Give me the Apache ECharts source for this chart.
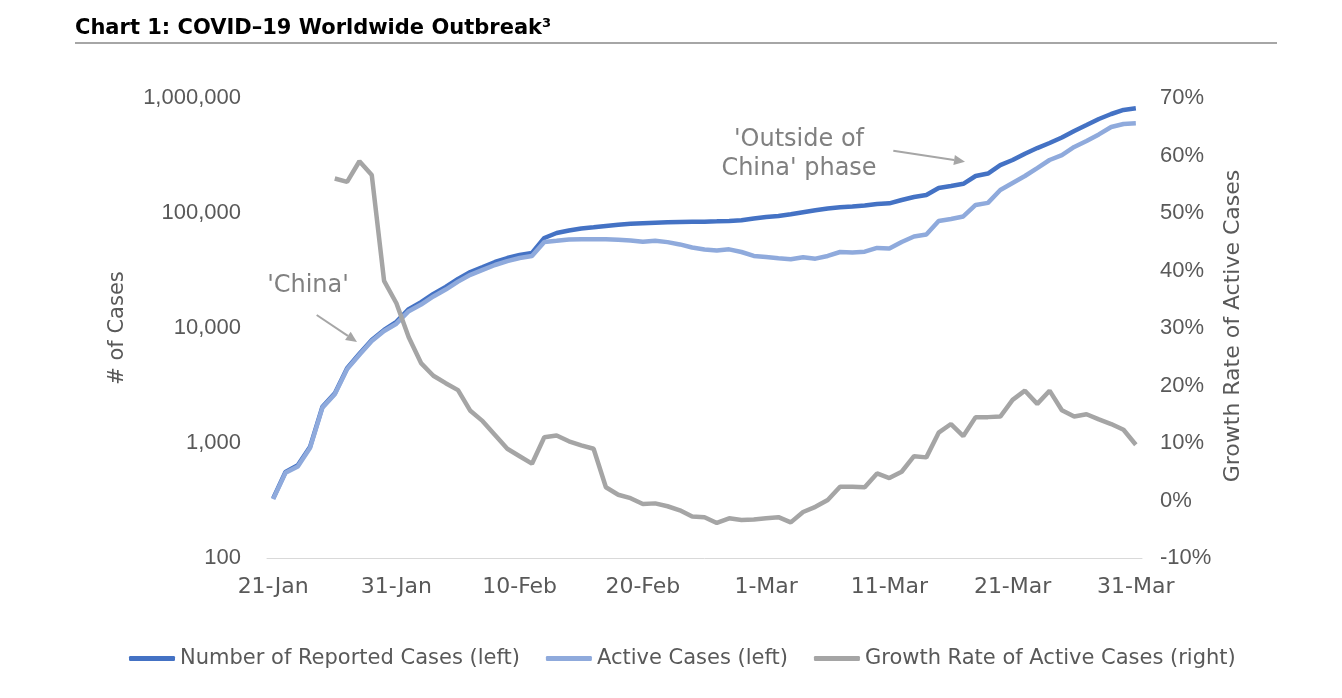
<!DOCTYPE html>
<html><head><meta charset="utf-8">
<script src="https://cdn.jsdelivr.net/npm/echarts@6/dist/echarts.min.js"></script>
<style>html,body{margin:0;padding:0;background:#fff;}#c{width:1342px;height:698px;}</style>
</head><body><div id="c"></div><script>
const categories = [
 '21-Jan','22-Jan','23-Jan','24-Jan','25-Jan','26-Jan','27-Jan','28-Jan','29-Jan','30-Jan',
 '31-Jan','1-Feb','2-Feb','3-Feb','4-Feb','5-Feb','6-Feb','7-Feb','8-Feb','9-Feb',
 '10-Feb','11-Feb','12-Feb','13-Feb','14-Feb','15-Feb','16-Feb','17-Feb','18-Feb','19-Feb',
 '20-Feb','21-Feb','22-Feb','23-Feb','24-Feb','25-Feb','26-Feb','27-Feb','28-Feb','29-Feb',
 '1-Mar','2-Mar','3-Mar','4-Mar','5-Mar','6-Mar','7-Mar','8-Mar','9-Mar','10-Mar',
 '11-Mar','12-Mar','13-Mar','14-Mar','15-Mar','16-Mar','17-Mar','18-Mar','19-Mar','20-Mar',
 '21-Mar','22-Mar','23-Mar','24-Mar','25-Mar','26-Mar','27-Mar','28-Mar','29-Mar','30-Mar',
 '31-Mar'];
const reportedCases = [
 330, 560, 640, 930, 2070, 2700, 4470, 5970, 7870, 9610,
 11300, 14600, 16800, 19800, 22800, 26700, 30700, 33900, 37500, 40600,
 43200, 44900, 60600, 67000, 70400, 73300, 75100, 77100, 78900, 80500,
 81500, 82400, 83000, 83500, 83800, 84100, 84700, 85400, 86400, 89500,
 92300, 94200, 97400, 101400, 105500, 109400, 112100, 113900, 116200, 119700,
 121400, 129700, 137700, 143500, 164900, 171700, 179400, 209800, 220400, 261000,
 289000, 328000, 367000, 406000, 454000, 517000, 582000, 657000, 726000, 787000,
 813000];
const activeCases = [
 325, 550, 625, 910, 2030, 2650, 4390, 5860, 7720, 9420,
 10900, 14000, 16000, 18800, 21600, 25300, 29000, 32000, 35300, 38200,
 40600, 42200, 56000, 57400, 58900, 59200, 59200, 59000, 58400, 57700,
 56200, 57400, 55800, 53300, 50100, 48200, 47200, 48300, 45800, 42300,
 41400, 40400, 39600, 41200, 40100, 42300, 45800, 45400, 46100, 49700,
 49100, 56000, 62500, 65000, 85100, 88700, 93300, 117500, 122400, 158500,
 182400, 209800, 246000, 289000, 319000, 375000, 423000, 482000, 560000, 594000,
 602000];
const growthRate = [
 null, null, null, null, null, 56.0, 55.4, 59.0, 56.6, 38.2,
 34.3, 28.4, 23.9, 21.7, 20.4, 19.2, 15.6, 13.8, 11.4, 9.0,
 7.7, 6.4, 11.0, 11.3, 10.3, 9.6, 9.0, 2.3, 1.0, 0.4,
 -0.6, -0.5, -1.0, -1.7, -2.8, -2.9, -3.9, -3.1, -3.4, -3.3,
 -3.1, -2.9, -3.8, -2.0, -1.1, 0.1, 2.4, 2.4, 2.3, 4.7,
 3.9, 5.0, 7.7, 7.5, 11.8, 13.3, 11.2, 14.5, 14.5, 14.6,
 17.5, 19.1, 16.8, 19.1, 15.7, 14.6, 15.0, 14.1, 13.3, 12.3,
 9.7];
const seriesNames = ['Number of Reported Cases (left)', 'Active Cases (left)', 'Growth Rate of Active Cases (right)'];

const NUMFONT = 'Liberation Sans';
const FONT = 'DejaVu Sans';
const TXT = '#595959';
const ANN = '#808080';
const chart = echarts.init(document.getElementById('c'), null, {renderer: 'canvas'});
const everyTen = (i) => i % 10 === 0;
function arrow(x1, y1, x2, y2) {
  const dx = x2 - x1, dy = y2 - y1, L = Math.hypot(dx, dy);
  const ux = dx / L, uy = dy / L, hl = 11, hw = 5;
  const bx = x2 - ux * hl, by = y2 - uy * hl;
  return [
    {type: 'line', shape: {x1, y1, x2: bx, y2: by}, style: {stroke: '#a6a6a6', lineWidth: 2}},
    {type: 'polygon', shape: {points: [[x2, y2], [bx - uy * hw, by + ux * hw], [bx + uy * hw, by - ux * hw]]}, style: {fill: '#a6a6a6'}}
  ];
}
chart.setOption({
  animation: false,
  backgroundColor: '#fff',
  grid: {left: 267, right: 200, top: 98, bottom: 140},
  legend: {
    data: seriesNames, left: 124, top: 643, itemWidth: 46, itemHeight: 5, itemGap: 26,
    icon: 'roundRect',
    textStyle: {color: TXT, fontSize: 21, fontFamily: FONT}
  },
  xAxis: {
    type: 'category', data: categories, boundaryGap: true,
    axisLine: {onZero: false, lineStyle: {color: '#d9d9d9', width: 1}},
    axisTick: {interval: everyTen, length: 6, lineStyle: {color: '#d9d9d9'}},
    axisLabel: {interval: everyTen, color: TXT, fontSize: 22, fontFamily: FONT, margin: 18}
  },
  yAxis: [
    {type: 'log', logBase: 10, min: 100, max: 1000000,
     axisLine: {show: false}, axisTick: {show: false}, splitLine: {show: false},
     axisLabel: {color: TXT, fontSize: 22, fontFamily: NUMFONT, margin: 26,
       formatter: (v) => Math.round(v).toLocaleString('en-US')}},
    {type: 'value', min: -10, max: 70, interval: 10,
     axisLine: {show: false}, axisTick: {show: false}, splitLine: {show: false},
     axisLabel: {color: TXT, fontSize: 22, fontFamily: NUMFONT, margin: 18, formatter: '{value}%'}}
  ],
  series: [
    {name: seriesNames[0], type: 'line', yAxisIndex: 0, data: reportedCases, symbol: 'none',
     lineStyle: {color: '#4472C4', width: 4.5}, itemStyle: {color: '#4472C4'}},
    {name: seriesNames[1], type: 'line', yAxisIndex: 0, data: activeCases, symbol: 'none',
     lineStyle: {color: '#8FAADC', width: 4.5}, itemStyle: {color: '#8FAADC'}},
    {name: seriesNames[2], type: 'line', yAxisIndex: 1, data: growthRate, symbol: 'none',
     lineStyle: {color: '#A5A5A5', width: 4.5}, itemStyle: {color: '#A5A5A5'}}
  ],
  graphic: [
    {type: 'text', x: 75, y: 29, style: {text: 'Chart 1: COVID\u201319 Worldwide Outbreak\u00b3', fill: '#000',
      font: 'bold 21px "DejaVu Sans"', verticalAlign: 'middle'}},
    {type: 'line', shape: {x1: 75, y1: 43, x2: 1277, y2: 43}, style: {stroke: '#a6a6a6', lineWidth: 2}},
    {type: 'text', x: 118, y: 328, rotation: Math.PI / 2, style: {text: '# of Cases', fill: TXT,
      font: '21px "' + FONT + '"', align: 'center', verticalAlign: 'middle'}},
    {type: 'text', x: 1233, y: 326, rotation: Math.PI / 2, style: {text: 'Growth Rate of Active Cases', fill: TXT,
      font: '22px "' + FONT + '"', align: 'center', verticalAlign: 'middle'}},
    {type: 'text', x: 308, y: 286, style: {text: "'China'", fill: ANN, font: '24px "' + FONT + '"',
      align: 'center', verticalAlign: 'middle'}},
    {type: 'text', x: 799, y: 154, style: {text: "'Outside of\nChina' phase", fill: ANN, font: '24px "' + FONT + '"',
      align: 'center', verticalAlign: 'middle', lineHeight: 29}},
    ...arrow(316.7, 315, 357, 342),
    ...arrow(893.3, 150.7, 965, 161.7)
  ]
});
</script></body></html>
